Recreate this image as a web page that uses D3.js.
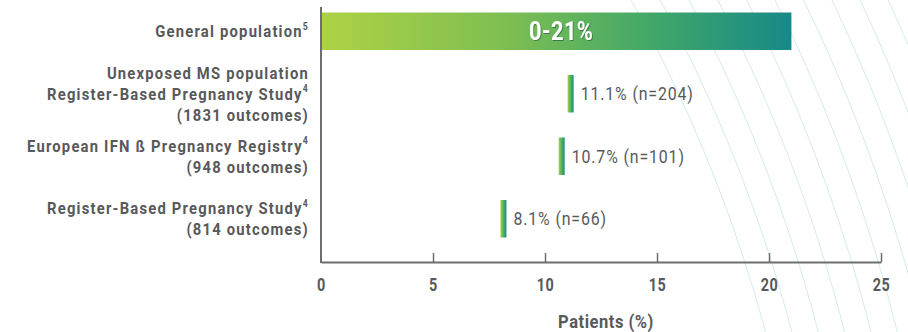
<!DOCTYPE html>
<html>
<head>
<meta charset="utf-8">
<script src="https://cdn.jsdelivr.net/npm/d3@7"></script>
<style>
  html, body { margin: 0; padding: 0; background: #fff; }
  svg { display: block; }
  text { font-family: Roboto, "Noto Sans", sans-serif; }
</style>
</head>
<body>
<svg id="chart" width="908" height="332"></svg>
<script>
// Row labels (each entry is one line; the second item is the reference superscript)
const categories = ["general", "unexposedMS", "europeanIFN", "registerBased"];
const labelLines = [
  [["General population", "5"]],
  [["Unexposed MS population", ""], ["Register-Based Pregnancy Study", "4"], ["(1831 outcomes)", ""]],
  [["European IFN ß Pregnancy Registry", "4"], ["(948 outcomes)", ""]],
  [["Register-Based Pregnancy Study", "4"], ["(814 outcomes)", ""]]
];
// General population range (%)
const rangeLow = 0;
const rangeHigh = 21;
// Point estimates for the study rows (%) and their case counts
const rateCategories = ["unexposedMS", "europeanIFN", "registerBased"];
const rates = [11.1, 10.7, 8.1];
const counts = [204, 101, 66];
// Axis
const xTicks = [0, 5, 10, 15, 20, 25];
const xMax = 25;
const xTitle = "Patients (%)";

const svg = d3.select("#chart");
const W = 908;
const margin = { left: 321, right: 27 };
const textColor = "#58595b";
const axisColor = "#6d6e70";

// Condensed look: every text sits in a group squeezed horizontally
const squeeze = { label: 0.87, value: 0.86, tick: 0.78, title: 0.87, bar: 0.87 };
function place(parent, px, py, sx) {
  return parent.append("g").attr("transform", `translate(${px},${py}) scale(${sx},1)`)
    .append("text");
}

const x = d3.scaleLinear().domain([0, xMax]).range([margin.left, W - margin.right]);
const y = d3.scaleBand().domain(categories).range([0, 250]).paddingInner(0.4).paddingOuter(0.2);

const defs = svg.append("defs");
const barGrad = defs.append("linearGradient").attr("id", "barGrad")
  .attr("x1", "0%").attr("x2", "100%").attr("y1", "0%").attr("y2", "0%");
[[0, "#aed244"], [0.4, "#7dbe52"], [0.72, "#3ea66a"], [1, "#178989"]].forEach(([o, c]) =>
  barGrad.append("stop").attr("offset", o).attr("stop-color", c));
const markGrad = defs.append("linearGradient").attr("id", "markGrad")
  .attr("x1", "0%").attr("x2", "100%").attr("y1", "0%").attr("y2", "0%");
[[0, "#a9d046"], [0.5, "#4fb05f"], [1, "#1b8d84"]].forEach(([o, c]) =>
  markGrad.append("stop").attr("offset", o).attr("stop-color", c));
const shadow = defs.append("filter").attr("id", "txtShadow")
  .attr("x", "-20%").attr("y", "-30%").attr("width", "140%").attr("height", "160%");
shadow.append("feDropShadow").attr("dx", 1).attr("dy", 1).attr("stdDeviation", 0.7)
  .attr("flood-color", "#0b4a3a").attr("flood-opacity", 0.55);

// Decorative concentric arcs in the background
const arcCenter = [-666, 719];
const arcRadii = d3.range(0, 16).map(k => 1483 + 25.5 * k);
svg.append("g").selectAll("circle").data(arcRadii).join("circle")
  .attr("cx", arcCenter[0]).attr("cy", arcCenter[1]).attr("r", d => d)
  .attr("fill", "none").attr("stroke", "#d6ece6").attr("stroke-width", 1);

// General population range bar
svg.append("rect")
  .attr("x", x(rangeLow)).attr("y", y("general"))
  .attr("width", x(rangeHigh) - x(rangeLow)).attr("height", y.bandwidth())
  .attr("fill", "url(#barGrad)");
place(svg, (x(rangeLow) + x(rangeHigh)) / 2 + 5, y("general") + y.bandwidth() / 2, squeeze.bar)
  .attr("dy", "0.36em")
  .attr("text-anchor", "middle")
  .attr("fill", "#fff").attr("font-weight", "bold").attr("font-size", 25)
  .attr("letter-spacing", 0.5)
  .attr("filter", "url(#txtShadow)")
  .text(`${rangeLow}-${rangeHigh}%`);

// Point estimate markers
const rows = rateCategories.map((c, i) => ({ c, v: rates[i], n: counts[i] }));
svg.append("g").selectAll("rect").data(rows).join("rect")
  .attr("x", d => x(d.v) - 2).attr("y", d => y(d.c))
  .attr("width", 6).attr("height", y.bandwidth())
  .attr("fill", "url(#markGrad)");
const valG = svg.append("g");
rows.forEach(d => {
  place(valG, x(d.v) + 11, y(d.c) + y.bandwidth() / 2, squeeze.value)
    .attr("dy", "0.36em")
    .attr("fill", textColor).attr("font-size", 18.5)
    .attr("letter-spacing", 1)
    .text(`${d.v}% (n=${d.n})`);
});

// Category labels
const lineH = 21;
const labG = svg.append("g");
categories.forEach((c, i) => {
  const lines = labelLines[i];
  const cy = y(c) + y.bandwidth() / 2;
  lines.forEach((ln, j) => {
    const t = place(labG, 309, cy + (j - (lines.length - 1) / 2) * lineH, squeeze.label)
      .attr("dy", "0.36em")
      .attr("text-anchor", "end")
      .attr("fill", textColor).attr("font-weight", "bold").attr("font-size", 17)
      .attr("letter-spacing", 1.4);
    t.append("tspan").text(ln[0]);
    if (ln[1]) {
      t.append("tspan").attr("font-size", 10).attr("dy", "-0.75em").attr("dx", 0).text(ln[1]);
    }
  });
});

// X axis
const axisY = 262;
const axis = d3.axisBottom(x).tickValues(xTicks).tickSize(0).tickFormat(() => "");
const ag = svg.append("g").attr("transform", `translate(0,${axisY})`).call(axis);
ag.select(".domain").attr("stroke", axisColor).attr("stroke-width", 2);
// Upward tick marks
ag.selectAll(".tick").filter(d => d > 0).append("line")
  .attr("y1", 0).attr("y2", -9).attr("stroke", axisColor).attr("stroke-width", 1.5);
// Tick labels
ag.selectAll(".tick").each(function (d) {
  place(d3.select(this), 0, 29, squeeze.tick)
    .attr("text-anchor", "middle")
    .attr("fill", textColor).attr("font-size", 18.5).attr("font-weight", "bold")
    .attr("letter-spacing", 0.6)
    .text(d);
});

// Y axis line
svg.append("line")
  .attr("x1", x(0)).attr("x2", x(0)).attr("y1", 7).attr("y2", axisY + 1)
  .attr("stroke", axisColor).attr("stroke-width", 2);

// Axis title
place(svg, 606, 328, squeeze.title)
  .attr("text-anchor", "middle")
  .attr("fill", textColor).attr("font-weight", "bold").attr("font-size", 19)
  .attr("letter-spacing", 0.6)
  .text(xTitle);
</script>
</body>
</html>
